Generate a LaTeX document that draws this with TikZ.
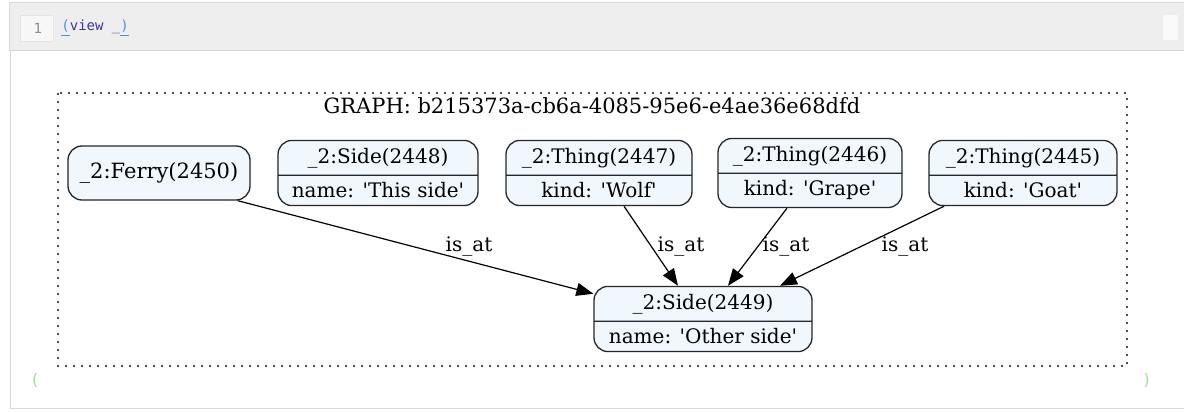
\documentclass[tikz,border=0pt]{standalone}
\usepackage{fontspec}
\setmainfont{DejaVu Serif}
\setmonofont{DejaVu Sans Mono}
\usetikzlibrary{shapes.multipart,arrows.meta,calc}

\definecolor{nodefill}{HTML}{F0F7FD}
\definecolor{headgray}{HTML}{EEEEEE}
\definecolor{framegray}{HTML}{D8D8D8}
\definecolor{linkblue}{HTML}{4A8FE0}
\definecolor{codenavy}{HTML}{3B3597}
\definecolor{parengreen}{HTML}{A8DDA0}

\newcommand{\sq}{\textquotesingle}

\tikzset{
    recnode/.style   = {rectangle split, rectangle split parts = 2, draw = black!85, fill = nodefill,
                        rounded corners = 7pt, line width = 0.65pt, font = \fontsize{10}{12}\selectfont,
                        inner ysep = 3.4pt, align = center},
    plainnode/.style = {rectangle, draw = black!85, fill = nodefill, rounded corners = 7pt,
                        line width = 0.65pt, font = \fontsize{10.5}{12}\selectfont, minimum height = 27pt},
    edgelbl/.style   = {font = \fontsize{10}{12}\selectfont, inner sep = 0pt},
    isat/.style      = {-{Triangle[length = 8.5pt, width = 6.5pt]}, line width = 0.6pt, black}
}

\begin{document}
\begin{tikzpicture}[x = 0.5pt, y = -0.5pt]
    \useasboundingbox (0,0) rectangle (1184,412);

    \fill [white]                                   (0,0) rectangle (1184,412);
    \draw [framegray, fill = headgray]              (9,2) rectangle (1190,50);
    \draw [framegray, fill = white]                 (10,50) rectangle (1190,408);
    \draw [framegray!70, fill = black!3]            (20,15) rectangle (53,41);
    \fill [black!2]                                 (1163,15) rectangle (1178,40);

    \node [font = \ttfamily\fontsize{7}{8}\selectfont, text = black!45, anchor = east] (lineno) at (49,28) {1};
    \node [font = \ttfamily\fontsize{7}{8}\selectfont, anchor = west, inner sep = 0pt] (cell) at (61,28)
        {\textcolor{linkblue}{\underline{(}}\textcolor{codenavy}{view} \textcolor{black!60}{\_}\textcolor{linkblue}{\underline{)}}};

    \node [text = parengreen, font = \ttfamily\fontsize{8}{9}\selectfont] (openp)  at (35,380)   {(};
    \node [text = parengreen, font = \ttfamily\fontsize{8}{9}\selectfont] (closep) at (1147,380) {)};

    \draw [black!70, line width = 0.6pt, dash pattern = on 0.8pt off 3.2pt] (58,93) rectangle (1127,366);
    \node [font = \fontsize{10.5}{12}\selectfont] (title) at (592,106) {GRAPH: b215373a-cb6a-4085-95e6-e4ae36e68dfd};

    \node [plainnode, minimum width = 91pt]         (ferry)  at (159,173)   {\_2:Ferry(2450)};
    \node [recnode, minimum width = 100pt]          (side48) at (378,173)   {\_2:Side(2448) \nodepart{two} name: \sq This side\sq};
    \node [recnode, minimum width = 93pt]           (wolf)   at (599,173)   {\_2:Thing(2447) \nodepart{two} kind: \sq Wolf\sq};
    \node [recnode, minimum width = 92pt]           (grape)  at (810,173)   {\_2:Thing(2446) \nodepart{two} kind: \sq Grape\sq};
    \node [recnode, minimum width = 94pt]           (goat)   at (1023,173)  {\_2:Thing(2445) \nodepart{two} kind: \sq Goat\sq};
    \node [recnode, minimum width = 109pt]          (side49) at (703,319)   {\_2:Side(2449) \nodepart{two} name: \sq Other side\sq};

    \draw [isat] ($(ferry.south east)+(-13,0)$)  -- ($(side49.north west)+(0,8)$);
    \draw [isat] ($(wolf.south)+(25,0)$)         -- ($(side49.north)+(-25,0)$);
    \draw [isat] ($(grape.south)+(-23,0)$)       -- ($(side49.north)+(25,0)$);
    \draw [isat] ($(goat.south)+(-79,0)$)        -- ($(side49.north)+(77,0)$);

    \node [edgelbl] (lblferry) at (469,246) {is\_at};
    \node [edgelbl] (lblwolf)  at (681,246) {is\_at};
    \node [edgelbl] (lblgrape) at (786,246) {is\_at};
    \node [edgelbl] (lblgoat)  at (905,246) {is\_at};
\end{tikzpicture}
\end{document}
